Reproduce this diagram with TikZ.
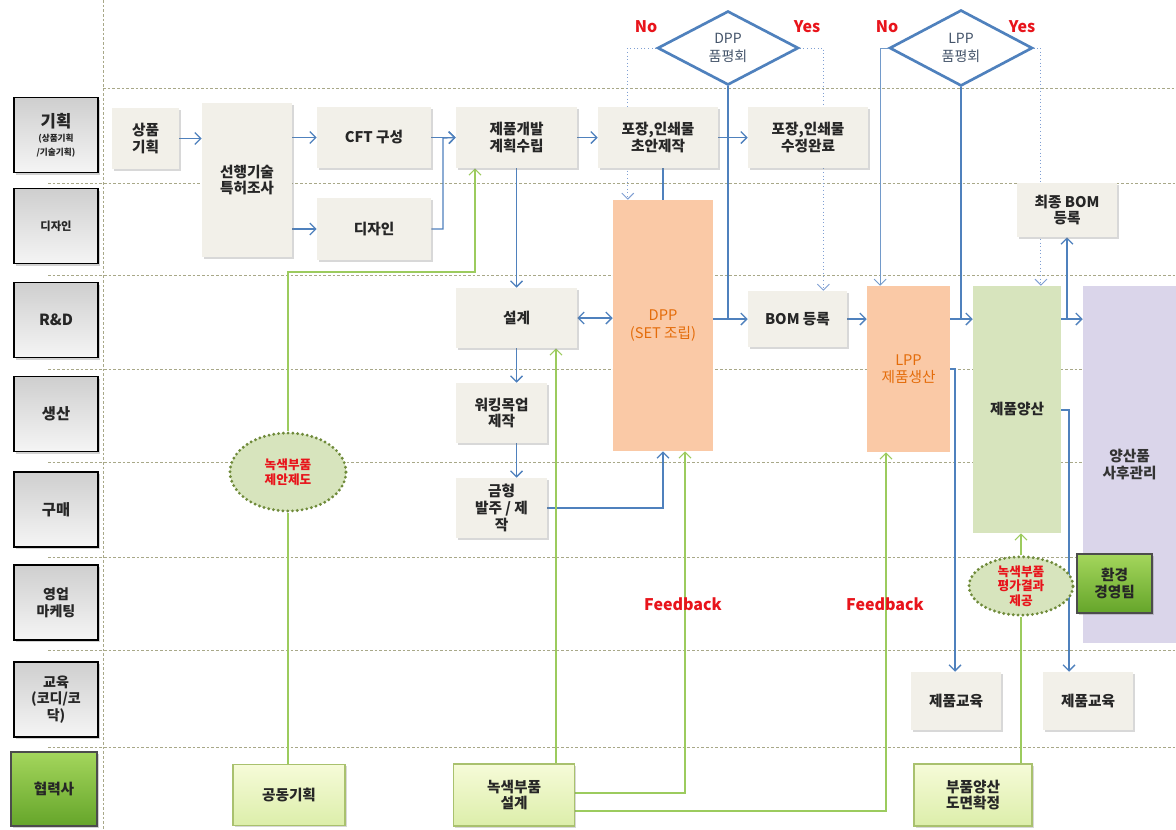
\documentclass[tikz,border=0pt]{standalone}
\usepackage{fontspec}
\setmainfont{Noto Sans CJK KR}
\usetikzlibrary{arrows.meta,shapes.geometric,shadows,backgrounds,calc}
\definecolor{boxfill}{HTML}{F2F0E9}
\definecolor{arrblue}{HTML}{4F81BD}
\definecolor{dotblue}{HTML}{7F9FD3}
\definecolor{gline}{HTML}{9CCB5E}
\definecolor{peach}{HTML}{FAC9A6}
\definecolor{orangetxt}{HTML}{E46C0A}
\definecolor{massgreen}{HTML}{D7E4BD}
\definecolor{lavender}{HTML}{DAD5EA}
\definecolor{ellborder}{HTML}{6F8A3A}
\definecolor{redtxt}{HTML}{E8141B}
\definecolor{lanecol}{HTML}{A8A888}
\definecolor{diatxt}{HTML}{44546A}
\definecolor{pgtop}{HTML}{F6FBD8}
\definecolor{pgbot}{HTML}{DCEEAA}
\definecolor{pgdraw}{HTML}{A9C16E}
\definecolor{gtop}{HTML}{A4D65C}
\definecolor{gbot}{HTML}{65A52A}
\tikzset{
  bw/.style={minimum width={#1*0.75pt}},
  bh/.style={minimum height={#1*0.75pt}},
  pbox/.style={fill=boxfill, inner sep=0pt, align=center, text=black!85,
    font=\fontsize{11}{12.5}\selectfont\bfseries,
    drop shadow={opacity=0.3, shadow xshift=1.3pt, shadow yshift=-1.3pt}},
  lab/.style={draw=black, line width=0.9pt, top color=gray!38, bottom color=gray!8,
    inner sep=0pt, align=center, text=black!85, font=\fontsize{11.5}{13}\selectfont\bfseries,
    drop shadow={opacity=0.35, shadow xshift=1.5pt, shadow yshift=-1.5pt}},
  glab/.style={draw=black!70, line width=0.8pt, top color=gtop, bottom color=gbot,
    inner sep=0pt, align=center, text=black!85, font=\fontsize{11}{13}\selectfont\bfseries,
    drop shadow={opacity=0.35, shadow xshift=1.5pt, shadow yshift=-1.5pt}},
  pgbox/.style={draw=pgdraw, line width=0.8pt, top color=pgtop, bottom color=pgbot,
    inner sep=0pt, align=center, text=black!85, font=\fontsize{11}{12.5}\selectfont\bfseries,
    drop shadow={opacity=0.3, shadow xshift=1.3pt, shadow yshift=-1.3pt}},
  colbox/.style={inner sep=0pt, align=center, font=\fontsize{11}{13}\selectfont},
  dia/.style={shape=diamond, draw=arrblue, line width=2pt, fill=white, inner sep=0pt,
    align=center, text=diatxt, font=\fontsize{10.5}{13}\selectfont},
  gell/.style={shape=ellipse, fill=massgreen, draw=ellborder, line width=2.4pt,
    dash pattern=on 0pt off 3.6pt, line cap=round, inner sep=0pt, align=center,
    text=redtxt, font=\fontsize{9.5}{11.5}\selectfont\bfseries},
  redlab/.style={text=redtxt, font=\fontsize{12}{14}\selectfont\bfseries, inner sep=0pt},
  lane/.style={draw=lanecol, line width=0.6pt, dash pattern=on 2pt off 1.5pt},
  tip/.tip={Straight Barb[length=4.5pt,width=9pt,line width=1pt]},
  arr/.style={draw=arrblue, line width=1pt, -tip},
  arrtwo/.style={draw=arrblue, line width=1pt, tip-tip},
  ln/.style={draw=arrblue, line width=1pt},
  dotarr/.style={draw=dotblue, line width=0.7pt, dotted, -{Straight Barb[length=4.5pt,width=9pt,line width=0.7pt]}},
  thinarr/.style={draw=arrblue!80, line width=0.6pt, -{Straight Barb[length=4.5pt,width=9pt,line width=0.7pt]}},
  garr/.style={draw=gline, line width=0.9pt, -{Straight Barb[length=4.5pt,width=9pt,line width=0.9pt]}},
  gln/.style={draw=gline, line width=0.9pt},
}
\begin{document}
\begin{tikzpicture}[x=0.75pt,y=-0.75pt]
\useasboundingbox (0,0) rectangle (1176,829);

% lane labels
\node[lab, bw=84, bh=75] (lplan) at (56,135) {{\fontsize{12.5}{14}\selectfont 기획}\\[-2pt]{\fontsize{6.5}{7.5}\selectfont (상품기획}\\[-3pt]{\fontsize{6.5}{7.5}\selectfont /기술기획)}};
\node[lab, bw=84, bh=75, font=\fontsize{8.5}{10}\selectfont\bfseries] (ldes) at (56,226) {디자인};
\node[lab, bw=84, bh=75] (lrd) at (56,320) {R\&D};
\node[lab, bw=84, bh=75] (lprod) at (56,414) {생산};
\node[lab, bw=84, bh=75] (lbuy) at (56,509.5) {구매};
\node[lab, bw=84, bh=75, font=\fontsize{10.5}{13}\selectfont\bfseries] (lsales) at (56,602.5) {영업\\마케팅};
\node[lab, bw=84, bh=75, font=\fontsize{10.5}{12.5}\selectfont\bfseries] (ledu) at (56,699.5) {교육\\(코디/코\\닥)};
\node[glab, bw=86, bh=74] (lpartner) at (54,789) {협력사};

% process boxes
\node[pbox, bw=67, bh=61] (sangpum) at (145.5,138.5) {상품\\기획};
\node[pbox, bw=90, bh=154] (seonhaeng) at (247,180) {선행기술\\특허조사};
\node[pbox, bw=114, bh=61] (cft) at (374,137.5) {CFT 구성};
\node[pbox, bw=114, bh=62] (dsn) at (374,229) {디자인};
\node[pbox, bw=121, bh=61] (plan) at (516.5,137.5) {제품개발\\계획수립};
\node[pbox, bw=120, bh=61] (pkg1) at (658,137.5) {포장,인쇄물\\초안제작};
\node[pbox, bw=120, bh=61] (pkg2) at (808,137.5) {포장,인쇄물\\수정완료};
\node[pbox, bw=121, bh=60] (seolgye) at (516.5,318) {설계};
\node[pbox, bw=91, bh=60] (mockup) at (501.5,413) {워킹목업\\제작};
\node[pbox, bw=91, bh=60] (mold) at (501.5,508) {금형\\발주 / 제\\작};
\node[pbox, bw=99, bh=56] (bom) at (797.5,319) {BOM 등록};
\node[pbox, bw=100, bh=54] (finbom) at (1067,210) {최종 BOM\\등록};
\node[pbox, bw=90, bh=58] (edu1) at (956,701) {제품교육};
\node[pbox, bw=90, bh=58] (edu2) at (1088,701) {제품교육};

% coloured columns
\node[colbox, fill=peach, text=orangetxt, bw=100, bh=251] (dpp) at (663,325.5) {DPP\\(SET 조립)};
\node[colbox, fill=peach, text=orangetxt, bw=83, bh=166] (lpp) at (908.5,369) {LPP\\제품생산};
\node[colbox, fill=massgreen, text=black!85, bw=88, bh=247, font=\fontsize{11}{13}\selectfont\bfseries] (mass) at (1017,409.5) {제품양산};
\node[colbox, fill=lavender, text=black!80, bw=93, bh=357, font=\fontsize{11}{13}\selectfont\bfseries] (after) at (1129.5,464.5) {양산품\\사후관리};
\node[glab, bw=75, bh=59] (env) at (1114.5,583.5) {환경\\경영팀};

% partner boxes
\node[pgbox, bw=112, bh=61] (gongdong) at (289,795) {공동기획};
\node[pgbox, bw=121, bh=62] (green1) at (514,795) {녹색부품\\설계};
\node[pgbox, bw=118, bh=62] (green2) at (973,795) {부품양산\\도면확정};

% ellipses
\node[gell, bw=116, bh=78] (ell1) at (288,472) {녹색부품\\제안제도};
\node[gell, bw=104, bh=58, font=\fontsize{9.5}{11}\selectfont\bfseries] (ell2) at (1021,586) {녹색부품\\평가결과\\제공};

% diamonds
\node[dia, bw=141, bh=74] (dia1) at (728,48) {DPP\\품평회};
\node[dia, bw=143, bh=76] (dia2) at (961,48) {LPP\\품평회};

% labels
\node[redlab] (no1) at (646,27) {No};
\node[redlab] (yes1) at (807,27) {Yes};
\node[redlab] (no2) at (887,27) {No};
\node[redlab] (yes2) at (1022,27) {Yes};
\node[redlab] (fb1) at (683,604) {Feedback};
\node[redlab] (fb2) at (885,604) {Feedback};

% helper coordinates
\coordinate (j1) at (443,138);
\coordinate (dppNo) at ($(dpp.north west)!0.15!(dpp.north east)$);
\coordinate (bomYes) at ($(bom.north west)!0.76!(bom.north east)$);
\coordinate (lppNo) at ($(lpp.north west)!0.16!(lpp.north east)$);
\coordinate (massYes) at ($(mass.north west)!0.77!(mass.north east)$);
\coordinate (c369) at (955,369);
\coordinate (c410) at (1069,410);
\coordinate (g1) at (475,272);
\coordinate (g2) at (556,764);
\coordinate (g3) at (685,793);
\coordinate (g4) at (886,811);

\begin{scope}[on background layer]
\fill[white] (0,0) rectangle (1176,829);
\draw[lane] (103,88) -- (1176,88);
\foreach \yy in {183,275,369,462,557,650,747} \draw[lane] (48,\yy) -- (1176,\yy);
\draw[lane] (103,0) -- (103,829);

% blue connectors
\draw[arr] (sangpum.east) -- (sangpum.east -| seonhaeng.west);
\draw[arr] (seonhaeng.east |- cft.west) -- (cft.west);
\draw[arr] (seonhaeng.east |- dsn.west) -- (dsn.west);
\draw[arr] (cft.east) -- (plan.west);
\draw[arr] (dsn.east) -| (j1) -- (plan.west);
\draw[arr] (plan.east) -- (pkg1.west);
\draw[arr] (pkg1.east) -- (pkg2.west);
\draw[arr] (plan.south) -- (seolgye.north);
\draw[arrtwo] (seolgye.east) -- (seolgye.east -| dpp.west);
\draw[arr] (seolgye.south) -- (seolgye.south |- mockup.north);
\draw[arr] (seolgye.south |- mockup.south) -- (seolgye.south |- mold.north);
\draw[arr] (mold.east) -| (dpp.south);
\draw[dotarr] (dia1.west) -| (dppNo);
\draw[ln] (dpp.north) -- (dpp.north |- pkg1.south);
\draw[ln] (dia1.south) -- (dia1.south |- bom.west);
\draw[arr] (dpp.east |- bom.west) -- (bom.west);
\draw[dotarr] (dia1.east) -| (bomYes);
\draw[arr] (bom.east) -- (bom.east -| lpp.west);
\draw[thinarr] (dia2.west) -| (lppNo);
\draw[dotarr] (dia2.east) -| (massYes);
\draw[ln] (dia2.south) -- (dia2.south |- bom.east);
\draw[arr] (lpp.east |- bom.east) -- (mass.west |- bom.east);
\draw[arr] (mass.east |- bom.east) -- (after.west |- bom.east);
\draw[arr] (finbom.south |- bom.east) -- (finbom.south);
\draw[arr] (lpp.east |- c369) -- (c369) -- (c369 |- edu1.north);
\draw[arr] (mass.east |- c410) -- (c410) -- (c410 |- edu2.north);

% green connectors
\draw[gln] (gongdong.north -| ell1.south) -- (ell1.south);
\draw[garr] (ell1.north) |- (g1) -- (g1 |- plan.south);
\draw[garr] (g2) -- (g2 |- seolgye.south);
\draw[garr] (green1.east |- g3) -- (g3) -- (g3 |- dpp.south);
\draw[garr] (green1.east |- g4) -- (g4) -- (g4 |- lpp.south);
\draw[gln] (green2.north -| ell2.south) -- (ell2.south);
\draw[garr] (ell2.north) -- (ell2.north |- mass.south);
\end{scope}
\end{tikzpicture}
\end{document}
